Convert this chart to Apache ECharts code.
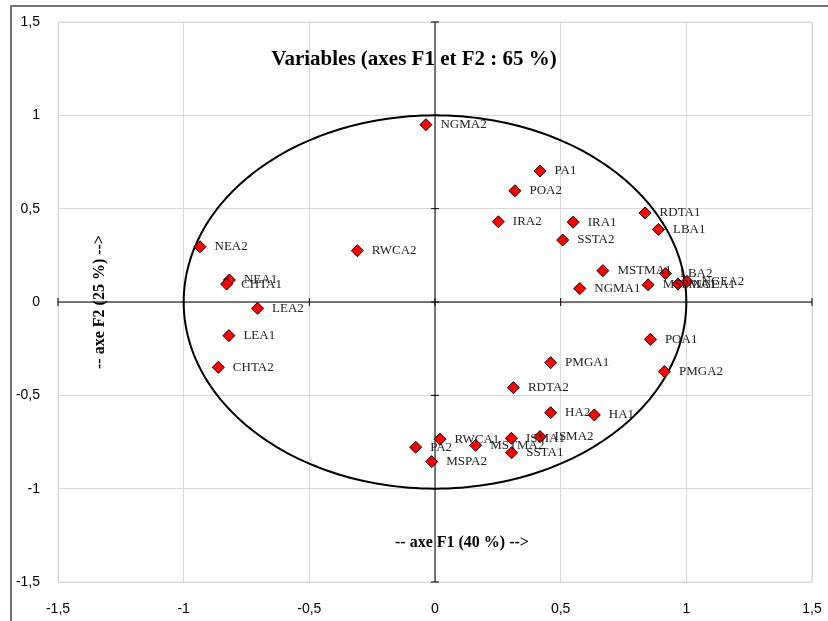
<!DOCTYPE html>
<html>
<head>
<meta charset="utf-8">
<script src="https://cdn.jsdelivr.net/npm/echarts@6/dist/echarts.min.js"></script>
<style>
html,body{margin:0;padding:0;background:#fff;}
#chart{width:828px;height:621px;}
</style>
</head>
<body>
<div id="chart"></div>
<script>
const pointNames = ['NGMA2','PA1','POA2','IRA2','IRA1','SSTA2','RDTA1','LBA1','MSTMA1','NGMA1','LBA2','MSPMA1','NGEA1','NGEA2','POA1','NEA2','RWCA2','NEA1','CHTA1','LEA2','LEA1','CHTA2','PMGA1','PMGA2','RDTA2','HA2','HA1','ISMA2','ISMA1','RWCA1','MSTMA2','SSTA1','PA2','MSPA2'];
const f1Values = [-0.036,0.418,0.318,0.252,0.550,0.508,0.836,0.889,0.668,0.576,0.917,0.848,0.967,1.003,0.857,-0.935,-0.309,-0.818,-0.829,-0.706,-0.820,-0.862,0.460,0.913,0.312,0.460,0.634,0.418,0.304,0.020,0.162,0.305,-0.077,-0.013];
const f2Values = [0.950,0.702,0.596,0.430,0.428,0.332,0.477,0.389,0.168,0.072,0.152,0.092,0.096,0.110,-0.200,0.296,0.275,0.118,0.096,-0.034,-0.180,-0.350,-0.325,-0.373,-0.459,-0.593,-0.605,-0.721,-0.730,-0.735,-0.768,-0.807,-0.778,-0.855];
const tickValues = [-1.5,-1,-0.5,0,0.5,1,1.5];
const titleText = 'Variables (axes F1 et F2 : 65 %)';
const xAxisName = '-- axe F1 (40 %) -->';
const yAxisName = '-- axe F2 (25 %) -->';
const circleRadius = [1];

const chart = echarts.init(document.getElementById('chart'), null, {renderer:'canvas'});
const fmt = v => String(v).replace('.', ',');
const serif = '"Liberation Serif", "Times New Roman", serif';
const sans = '"Liberation Sans Narrow", "Liberation Sans", Arial, sans-serif';

const option = {
  backgroundColor: '#fff',
  animation: false,
  title: [
    {text: titleText, left: 'center', top: 44,
     textStyle: {fontFamily: serif, fontWeight: 'bold', fontSize: 21, color: '#000'}},
    {text: xAxisName, left: 390, top: 530,
     textStyle: {fontFamily: serif, fontWeight: 'bold', fontSize: 16, color: '#000'}}
  ],
  graphic: [
    {type: 'polyline', shape: {points: [[11, 621], [11, 6], [828, 6]]},
     style: {stroke: '#777', lineWidth: 2, fill: null}, silent: true}
  ],
  grid: {left: 58, right: 16, top: 22, bottom: 39, show: true, borderColor: '#d9d9d9', borderWidth: 1},
  xAxis: {
    type: 'value', min: -1.5, max: 1.5, interval: 0.5,
    axisLine: {show: false, onZero: false}, axisTick: {show: false},
    splitLine: {lineStyle: {color: '#d9d9d9', width: 1}},
    axisLabel: {formatter: fmt, margin: 20, fontFamily: sans, fontSize: 14, color: '#000'}
  },
  yAxis: {
    type: 'value', min: -1.5, max: 1.5, interval: 0.5,
    axisLine: {show: false, onZero: false}, axisTick: {show: false},
    splitLine: {lineStyle: {color: '#d9d9d9', width: 1}},
    axisLabel: {formatter: fmt, margin: 18, fontFamily: sans, fontSize: 14, color: '#000'},
    name: yAxisName, nameLocation: 'middle', nameRotate: 90, nameGap: -50,
    nameTextStyle: {fontFamily: serif, fontWeight: 'bold', fontSize: 16, color: '#000'}
  },
  series: [
    {
      type: 'custom', name: 'zeroAxes', silent: true, z: 2,
      data: tickValues.map(v => [v, 0]),
      encode: {x: 0, y: 1},
      renderItem: function (params, api) {
        const v = api.value(0);
        const px = api.coord([v, 0]);
        const py = api.coord([0, v]);
        const st = {stroke: '#000', lineWidth: 1};
        const children = [
          {type: 'line', shape: {x1: px[0], y1: px[1] - 4, x2: px[0], y2: px[1] + 4}, style: st},
          {type: 'line', shape: {x1: py[0] - 4, y1: py[1], x2: py[0] + 4, y2: py[1]}, style: st}
        ];
        if (params.dataIndex === 0) {
          const a = api.coord([tickValues[0], 0]), b = api.coord([tickValues[tickValues.length - 1], 0]);
          const c = api.coord([0, tickValues[0]]), d = api.coord([0, tickValues[tickValues.length - 1]]);
          children.push({type: 'line', shape: {x1: a[0], y1: a[1], x2: b[0], y2: b[1]}, style: st});
          children.push({type: 'line', shape: {x1: c[0], y1: c[1], x2: d[0], y2: d[1]}, style: st});
        }
        return {type: 'group', children: children};
      }
    },
    {
      type: 'custom', name: 'circle', silent: true, z: 3,
      data: circleRadius.map(r => [0, 0, r]),
      encode: {x: 0, y: 1},
      renderItem: function (params, api) {
        const r = api.value(2);
        const pts = [];
        for (let i = 0; i <= 240; i++) {
          const t = i / 240 * Math.PI * 2;
          pts.push(api.coord([r * Math.cos(t), r * Math.sin(t)]));
        }
        return {type: 'polyline', shape: {points: pts}, style: {stroke: '#000', lineWidth: 2, fill: null}};
      }
    },
    {
      type: 'scatter', name: 'Variables', z: 5,
      symbol: 'diamond', symbolSize: [12, 12],
      itemStyle: {color: '#ff0000', borderColor: '#000', borderWidth: 1, opacity: 1},
      label: {show: true, position: 'right', distance: 8, formatter: p => p.data[2],
              fontFamily: serif, fontSize: 13, color: '#222'},
      data: pointNames.map((n, i) => [f1Values[i], f2Values[i], n])
    }
  ]
};
chart.setOption(option);
</script>
</body>
</html>
